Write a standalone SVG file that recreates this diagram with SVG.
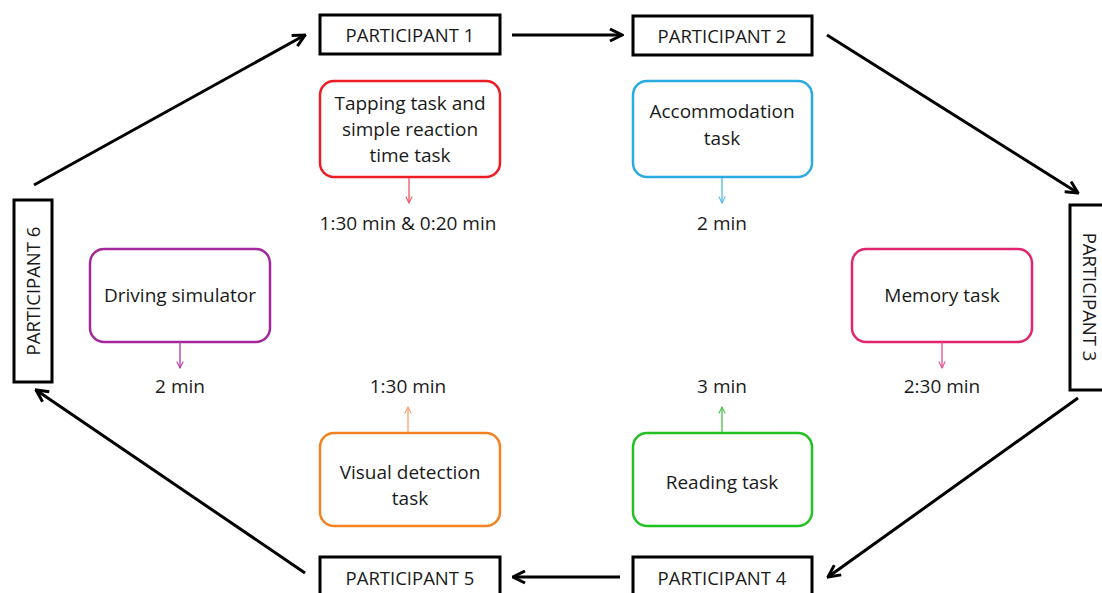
<svg xmlns="http://www.w3.org/2000/svg" width="1102" height="593" viewBox="0 0 1102 593">
<style>
.p{fill:#fff;stroke:#000;stroke-width:3}
.t{fill:#fff;stroke-width:2.5}
text{font-family:"Open Sans","Liberation Sans",sans-serif;font-size:19px;fill:#1a1a1a;text-anchor:middle}
.pt{font-size:18.5px}
.c{stroke:#000;stroke-width:3;fill:none;marker-end:url(#ah)}
.s{stroke-width:1.3;fill:none}
</style>
<defs>
<marker id="ah" viewBox="0 0 10 10" refX="9" refY="5" markerWidth="5" markerHeight="5" orient="auto" markerUnits="strokeWidth">
<path d="M1,1 L9,5 L1,9" fill="none" stroke="#000" stroke-width="2"/>
</marker>
<marker id="sa" viewBox="0 0 10 10" refX="9" refY="5" markerWidth="8" markerHeight="8" orient="auto" markerUnits="userSpaceOnUse">
<path d="M1,1 L9,5 L1,9" fill="none" stroke="context-stroke" stroke-width="1.3"/>
</marker>
</defs>
<rect width="1102" height="593" fill="#fff"/>
<g id="connectors">
<line class="c" x1="34" y1="185" x2="305" y2="35"/>
<line class="c" x1="512" y1="35" x2="622" y2="35"/>
<line class="c" x1="827" y1="35" x2="1078" y2="193"/>
<line class="c" x1="1078" y1="398" x2="828" y2="577"/>
<line class="c" x1="620" y1="577" x2="513" y2="577"/>
<line class="c" x1="305" y1="573" x2="36" y2="390"/>
</g>
<g id="p1"><rect class="p" x="320" y="15" width="180" height="39"/><text class="pt" x="410" y="42">PARTICIPANT 1</text></g>
<g id="p2"><rect class="p" x="633" y="16" width="179" height="39"/><text class="pt" x="722" y="43">PARTICIPANT 2</text></g>
<g id="p3"><rect class="p" x="1070" y="205" width="40" height="185"/><text class="pt" transform="translate(1083,297) rotate(90)">PARTICIPANT 3</text></g>
<g id="p4"><rect class="p" x="633" y="557" width="179" height="40"/><text class="pt" x="722" y="585">PARTICIPANT 4</text></g>
<g id="p5"><rect class="p" x="320" y="557" width="180" height="40"/><text class="pt" x="410" y="585">PARTICIPANT 5</text></g>
<g id="p6"><rect class="p" x="14" y="200" width="38" height="182"/><text class="pt" transform="translate(40,291) rotate(-90)">PARTICIPANT 6</text></g>
<g id="tapping">
<rect class="t" x="320" y="81" width="180" height="96" rx="14" stroke="#ee1c25"/>
<text x="410" y="110">Tapping task and</text>
<text x="410" y="136">simple reaction</text>
<text x="410" y="162">time task</text>
<line class="s" x1="409" y1="178" x2="409" y2="203" stroke="#ee5560" marker-end="url(#sa)"/>
<text x="408" y="230">1:30 min &amp; 0:20 min</text>
</g>
<g id="accommodation">
<rect class="t" x="633" y="81" width="179" height="96" rx="14" stroke="#29abe2"/>
<text x="722" y="118">Accommodation</text>
<text x="722" y="145">task</text>
<line class="s" x1="722" y1="178" x2="722" y2="203" stroke="#4fb8e6" marker-end="url(#sa)"/>
<text x="722" y="230">2 min</text>
</g>
<g id="driving">
<rect class="t" x="90" y="249" width="180" height="93" rx="14" stroke="#a3279a"/>
<text x="180" y="302">Driving simulator</text>
<line class="s" x1="180" y1="342" x2="180" y2="368" stroke="#b03aa8" marker-end="url(#sa)"/>
<text x="180" y="393">2 min</text>
</g>
<g id="memory">
<rect class="t" x="852" y="249" width="180" height="93" rx="14" stroke="#e0246e"/>
<text x="942" y="302">Memory task</text>
<line class="s" x1="942" y1="342" x2="942" y2="368" stroke="#e84a88" marker-end="url(#sa)"/>
<text x="942" y="393">2:30 min</text>
</g>
<g id="visual">
<rect class="t" x="320" y="433" width="180" height="93" rx="14" stroke="#f58220"/>
<text x="410" y="479">Visual detection</text>
<text x="410" y="505">task</text>
<line class="s" x1="408" y1="432" x2="408" y2="407" stroke="#f5a070" marker-end="url(#sa)"/>
<text x="408" y="393">1:30 min</text>
</g>
<g id="reading">
<rect class="t" x="633" y="433" width="179" height="93" rx="14" stroke="#22c022"/>
<text x="722" y="489">Reading task</text>
<line class="s" x1="722" y1="432" x2="722" y2="407" stroke="#44c044" marker-end="url(#sa)"/>
<text x="722" y="393">3 min</text>
</g>
</svg>
